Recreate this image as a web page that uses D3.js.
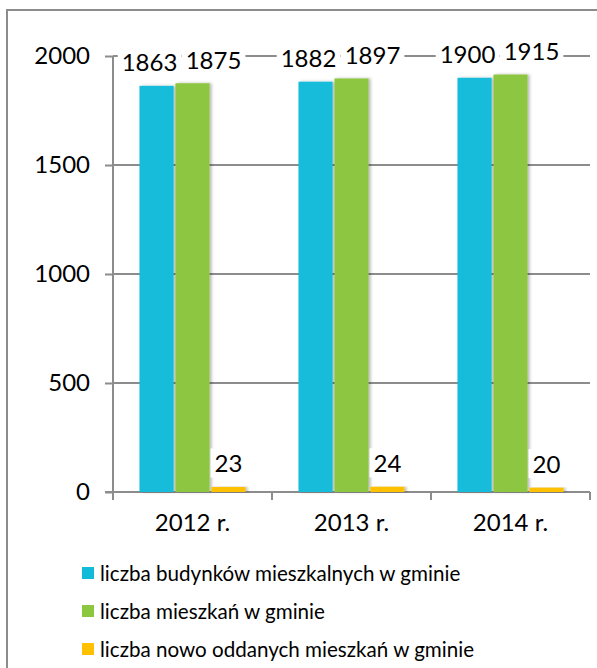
<!DOCTYPE html>
<html><head><meta charset="utf-8">
<script src="https://cdnjs.cloudflare.com/ajax/libs/d3/7.8.5/d3.min.js"></script>
<style>
html,body{margin:0;padding:0;background:#fff;}
svg text{font-family:Lato,"Open Sans",sans-serif;fill:#000;}
</style></head>
<body>
<svg id="chart" width="597" height="668"></svg>
<script>
const categories = ["2012 r.", "2013 r.", "2014 r."];
const seriesNames = ["liczba budynków mieszkalnych w gminie", "liczba mieszkań w gminie", "liczba nowo oddanych mieszkań w gminie"];
const budynki = [1863, 1882, 1900];
const mieszkania = [1875, 1897, 1915];
const nowe = [23, 24, 20];
const yTicks = [0, 500, 1000, 1500, 2000];
const colors = ["#12bcd9", "#8dc63f", "#ffc000"];

const series = [budynki, mieszkania, nowe];
const svg = d3.select("#chart");
const FS = 24;
const LFS = 20.6;

const defs = svg.append("defs");
const f = defs.append("filter").attr("id","sh").attr("x","-20%").attr("y","-5%").attr("width","150%").attr("height","110%");
f.append("feDropShadow").attr("dx",2).attr("dy",0).attr("stdDeviation",1.6).attr("flood-color","#000").attr("flood-opacity",0.28);

// outer border
svg.append("rect").attr("x",7).attr("y",10).attr("width",640).attr("height",720)
  .attr("fill","none").attr("stroke","#8c8c8c").attr("stroke-width",2);

const x0 = d3.scaleBand().domain(categories).range([113, 590]).paddingInner(0.333).paddingOuter(0.1665);
const x1 = d3.scaleBand().domain([0,1,2]).range([0, x0.bandwidth()]).paddingInner(0.05);
const y = d3.scaleLinear().domain([0, 2000]).range([492, 56]);

// gridlines
svg.append("g").selectAll("line").data(yTicks.filter(d=>d>0)).join("line")
  .attr("x1",113).attr("x2",590).attr("y1",d=>y(d)).attr("y2",d=>y(d))
  .attr("stroke","#8c8c8c").attr("stroke-width",2);

// y axis
const yAxis = d3.axisLeft(y).tickValues(yTicks).tickSize(8).tickPadding(15).tickFormat(d3.format("d"));
const gy = svg.append("g").attr("transform","translate(113,0)").call(yAxis);
gy.select(".domain").attr("stroke","#8c8c8c").attr("stroke-width",2).attr("d","M0,"+y(2000)+"V"+(y(0)+8));
gy.selectAll(".tick line").attr("stroke","#8c8c8c").attr("stroke-width",2);
gy.selectAll(".tick text").style("font-size",FS+"px").style("font-family","Lato, sans-serif").attr("fill","#000");

// x axis
const xAxis = d3.axisBottom(x0).tickSize(0).tickPadding(22);
const gx = svg.append("g").attr("transform","translate(0,"+y(0)+")").call(xAxis);
gx.select(".domain").remove();
gx.append("line").attr("x1",105).attr("x2",590).attr("y1",0).attr("y2",0).attr("stroke","#8c8c8c").attr("stroke-width",2);
const bounds = [113, ...categories.slice(1).map(c=>x0(c)-x0.step()*x0.paddingInner()/2), 590];
gx.selectAll(".bt").data(bounds).join("line").attr("class","bt")
  .attr("x1",d=>d).attr("x2",d=>d).attr("y1",0).attr("y2",8).attr("stroke","#8c8c8c").attr("stroke-width",2);
gx.selectAll(".tick text").style("font-size",FS+"px").style("font-family","Lato, sans-serif").attr("fill","#000");

// bars
const groups = svg.append("g").selectAll("g").data(categories).join("g")
  .attr("transform",c=>"translate("+x0(c)+",0)");
groups.selectAll("rect").data((c,i)=>series.map((s,k)=>({k, v:s[i]}))).join("rect")
  .attr("x",d=>x1(d.k)).attr("width",x1.bandwidth())
  .attr("y",d=>y(d.v)).attr("height",d=>y(0)-y(d.v))
  .attr("fill",d=>colors[d.k]).attr("filter","url(#sh)");

// data labels
const lab = svg.append("g");
categories.forEach((c,i)=>{
  const cx0 = x0(c)+x1(0)+x1.bandwidth()/2 - 7;
  const cxs = [cx0, cx0+64, x0(c)+x1(2)+x1.bandwidth()/2];
  series.forEach((s,k)=>{
    const cy = y(s[i]) - 24;
    const t = lab.append("text").attr("x",cxs[k]).attr("y",cy).attr("text-anchor","middle")
      .attr("dominant-baseline","central").style("font-size",FS+"px").text(s[i]);
    const bb = t.node().getBBox();
    lab.insert("rect","text").attr("x",bb.x-4).attr("y",bb.y).attr("width",bb.width+8).attr("height",bb.height).attr("fill","#fff");
  });
});

// legend
const leg = svg.append("g").selectAll("g").data(seriesNames).join("g")
  .attr("transform",(d,i)=>"translate(82,"+(573+i*38)+")");
leg.append("rect").attr("x",0).attr("y",-6).attr("width",12).attr("height",12).attr("fill",(d,i)=>colors[i]);
leg.append("text").attr("x",18).attr("y",0).attr("dominant-baseline","central").style("font-size",LFS+"px").text(d=>d);
</script>
</body></html>
